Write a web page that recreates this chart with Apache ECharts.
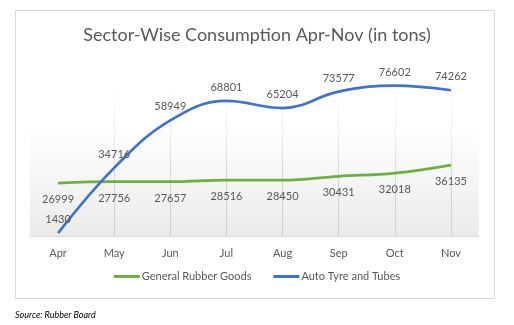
<!DOCTYPE html>
<html>
<head>
<meta charset="utf-8">
<script src="https://cdn.jsdelivr.net/npm/echarts@6/dist/echarts.min.js"></script>
<style>
html,body{margin:0;padding:0;background:#fff;}
#c{width:514px;height:325px;}
</style>
</head>
<body>
<div id="c"></div>
<script>
var categories = ['Apr', 'May', 'Jun', 'Jul', 'Aug', 'Sep', 'Oct', 'Nov'];
var generalRubberGoods = [26999, 27756, 27657, 28516, 28450, 30431, 32018, 36135];
var autoTyreTubes = [1430, 34716, 58949, 68801, 65204, 73577, 76602, 74262];
var seriesNames = ['General Rubber Goods', 'Auto Tyre and Tubes'];

var FONT = 'Lato, "Open Sans", sans-serif';
var GRID_TOP = 79, GRID_BOTTOM = 89, H = 325;
var chart = echarts.init(document.getElementById('c'), null, {renderer: 'canvas'});
chart.setOption({
  animation: false,
  backgroundColor: '#ffffff',
  graphic: [
    {type: 'rect', shape: {x: 15.5, y: 10.5, width: 479, height: 288}, style: {fill: 'none', stroke: '#d9d9d9', lineWidth: 1}, z: -10},
    {type: 'text', left: 15, top: 311, style: {text: 'Source: Rubber Board', fill: '#000', font: 'italic 9px ' + FONT}}
  ],
  title: {
    text: 'Sector-Wise Consumption Apr-Nov (in tons)',
    left: 'center', top: 21,
    textStyle: {color: '#595959', fontSize: 18, fontWeight: 'normal', fontFamily: FONT}
  },
  legend: {
    bottom: 38,
    left: 'center',
    icon: 'rect',
    itemWidth: 26, itemHeight: 3, itemGap: 22,
    textStyle: {color: '#595959', fontSize: 11, fontFamily: FONT, padding: [0, 0, 0, -3]},
    data: seriesNames
  },
  grid: {
    left: 30, right: 35, top: GRID_TOP, bottom: GRID_BOTTOM,
    show: true, borderWidth: 0,
    backgroundColor: new echarts.graphic.LinearGradient(0, 0, 0, 1, [
      {offset: 0, color: '#ffffff'},
      {offset: 0.3, color: '#ffffff'},
      {offset: 1, color: '#ebebeb'}
    ])
  },
  xAxis: {
    type: 'category',
    data: categories,
    boundaryGap: true,
    axisLine: {lineStyle: {color: '#d9d9d9'}},
    axisTick: {show: false},
    splitLine: {show: false},
    axisLabel: {color: '#595959', fontSize: 11, fontFamily: FONT, margin: 12}
  },
  yAxis: {
    type: 'value', min: 0, max: 80000, show: false,
    splitLine: {show: false}
  },
  series: [
    {
      name: seriesNames[0],
      type: 'line',
      data: generalRubberGoods,
      smooth: 0.4,
      showSymbol: true,
      symbol: 'circle',
      symbolSize: 0,
      lineStyle: {color: '#70ad47', width: 2.75},
      itemStyle: {color: '#70ad47'},
      label: {show: true, position: 'bottom', distance: 11, color: '#595959', fontSize: 11, fontFamily: FONT},
      markLine: {
        silent: true, symbol: 'none',
        label: {show: false},
        lineStyle: {
          width: 1, type: 'solid',
          color: new echarts.graphic.LinearGradient(0, GRID_TOP, 0, H - GRID_BOTTOM, [
            {offset: 0, color: 'rgba(210,210,210,0)'},
            {offset: 0.3, color: 'rgba(210,210,210,0.3)'},
            {offset: 0.7, color: 'rgba(210,210,210,1)'},
            {offset: 1, color: 'rgba(210,210,210,1)'}
          ], true)
        },
        data: categories.slice(1).map(function (c) { return {xAxis: c}; }),
        z: 1
      },
      z: 3
    },
    {
      name: seriesNames[1],
      type: 'line',
      data: autoTyreTubes,
      smooth: 0.4,
      showSymbol: true,
      symbol: 'circle',
      symbolSize: 0,
      lineStyle: {color: '#4472c4', width: 2.75},
      itemStyle: {color: '#4472c4'},
      label: {show: true, position: 'top', distance: 8, color: '#595959', fontSize: 11, fontFamily: FONT},
      z: 4
    }
  ]
});
</script>
</body>
</html>
